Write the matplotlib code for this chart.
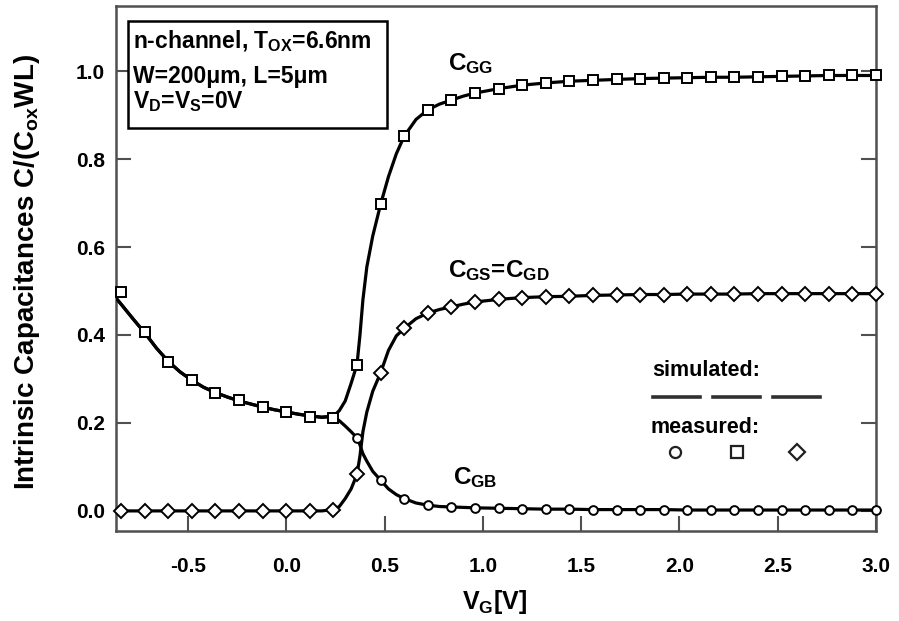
import numpy as np
import matplotlib
matplotlib.use("Agg")
import matplotlib.pyplot as plt
from matplotlib.patches import Rectangle
from matplotlib.lines import Line2D

plt.rcParams['font.family'] = ['Liberation Sans', 'DejaVu Sans']
plt.rcParams['font.weight'] = 'bold'
plt.rcParams['mathtext.fontset'] = 'custom'
plt.rcParams['mathtext.rm'] = 'Liberation Sans:bold'
plt.rcParams['mathtext.it'] = 'Liberation Sans:bold'
plt.rcParams['mathtext.bf'] = 'Liberation Sans:bold'
plt.rcParams['mathtext.default'] = 'rm'
plt.rcParams['axes.unicode_minus'] = False

# ---- measured normalized capacitances (markers) ----
vg_meas = [-0.84, -0.72, -0.60, -0.48, -0.36, -0.24, -0.12, 0.00, 0.12, 0.24,
           0.36, 0.48, 0.60, 0.72, 0.84, 0.96, 1.08, 1.20, 1.32, 1.44,
           1.56, 1.68, 1.80, 1.92, 2.04, 2.16, 2.28, 2.40, 2.52, 2.64,
           2.76, 2.88, 3.00]
cgg_meas = [0.498, 0.407, 0.339, 0.297, 0.269, 0.252, 0.237, 0.225, 0.214, 0.212,
            0.331, 0.697, 0.852, 0.912, 0.934, 0.950, 0.960, 0.968, 0.973, 0.977,
            0.979, 0.981, 0.983, 0.984, 0.985, 0.986, 0.986, 0.987, 0.988, 0.989,
            0.990, 0.990, 0.990]
cgs_meas = [0.0, 0.0, 0.0, 0.0, 0.0, 0.0, 0.0, 0.0, 0.0, 0.003,
            0.083, 0.314, 0.415, 0.450, 0.464, 0.475, 0.481, 0.485, 0.487, 0.488,
            0.490, 0.491, 0.492, 0.492, 0.493, 0.493, 0.493, 0.494, 0.494, 0.494,
            0.494, 0.494, 0.494]
cgb_meas = [0.498, 0.407, 0.339, 0.297, 0.269, 0.252, 0.237, 0.225, 0.214, 0.212,
            0.166, 0.070, 0.028, 0.013, 0.009, 0.007, 0.006, 0.005, 0.004, 0.004,
            0.003, 0.003, 0.003, 0.003, 0.002, 0.002, 0.002, 0.002, 0.002, 0.002,
            0.002, 0.002, 0.002]

# ---- simulated normalized capacitances (lines) ----
vg_sim = [-0.866, -0.84, -0.78, -0.72, -0.66, -0.60, -0.54, -0.48, -0.42, -0.36,
          -0.30, -0.24, -0.18, -0.12, -0.06, 0.00, 0.06, 0.12, 0.18, 0.24,
          0.27, 0.30, 0.33, 0.36, 0.375, 0.39, 0.41, 0.44, 0.48, 0.52,
          0.56, 0.60, 0.66, 0.72, 0.78, 0.84, 0.90, 0.96, 1.08, 1.20,
          1.32, 1.44, 1.56, 1.68, 1.80, 1.92, 2.04, 2.16, 2.28, 2.40,
          2.52, 2.64, 2.76, 2.88, 3.00]
cgg_sim = [0.484, 0.470, 0.437, 0.405, 0.370, 0.340, 0.316, 0.297, 0.281, 0.269,
           0.259, 0.250, 0.243, 0.236, 0.230, 0.225, 0.220, 0.216, 0.213, 0.215,
           0.228, 0.250, 0.290, 0.333, 0.400, 0.480, 0.555, 0.625, 0.697, 0.760,
           0.812, 0.852, 0.890, 0.912, 0.925, 0.934, 0.943, 0.950, 0.960, 0.968,
           0.973, 0.977, 0.979, 0.981, 0.983, 0.984, 0.985, 0.986, 0.986, 0.987,
           0.988, 0.989, 0.990, 0.990, 0.990]
cgs_sim = [0.0, 0.0, 0.0, 0.0, 0.0, 0.0, 0.0, 0.0, 0.0, 0.0,
           0.0, 0.0, 0.0, 0.0, 0.0, 0.0, 0.0, 0.0, 0.0, 0.003,
           0.010, 0.028, 0.050, 0.083, 0.125, 0.180, 0.225, 0.272, 0.314, 0.365,
           0.398, 0.415, 0.437, 0.450, 0.458, 0.464, 0.470, 0.475, 0.481, 0.485,
           0.487, 0.488, 0.490, 0.491, 0.492, 0.492, 0.493, 0.493, 0.493, 0.494,
           0.494, 0.494, 0.494, 0.494, 0.494]
cgb_sim = [0.484, 0.470, 0.437, 0.405, 0.370, 0.340, 0.316, 0.297, 0.281, 0.269,
           0.259, 0.250, 0.243, 0.236, 0.230, 0.225, 0.220, 0.216, 0.213, 0.215,
           0.205, 0.193, 0.180, 0.166, 0.150, 0.130, 0.113, 0.090, 0.070, 0.050,
           0.037, 0.028, 0.018, 0.013, 0.010, 0.009, 0.008, 0.007, 0.006, 0.005,
           0.004, 0.004, 0.003, 0.003, 0.003, 0.003, 0.002, 0.002, 0.002, 0.002,
           0.002, 0.002, 0.002, 0.002, 0.002]

x_ticks = [-0.5, 0.0, 0.5, 1.0, 1.5, 2.0, 2.5, 3.0]
y_ticks = [0.0, 0.2, 0.4, 0.6, 0.8, 1.0]

W, H = 899, 621
fig = plt.figure(figsize=(W / 100, H / 100), dpi=100)
fig.patch.set_facecolor('white')


def fx(px):
    return px / W


def fy(py):
    return 1 - py / H


ax = fig.add_axes([fx(116), fy(530.7), (876 - 116) / W, (530.7 - 6) / H])
ax.set_xlim(-0.866, 3.0)
ax.set_ylim(-0.045, 1.148)

spine_col = '#505050'
for s in ax.spines.values():
    s.set_color(spine_col)
    s.set_linewidth(1.8)

ax.set_xticks(x_ticks)
ax.set_yticks(y_ticks)
ax.set_xticklabels([f"{v:.1f}" for v in x_ticks])
ax.set_yticklabels([f"{v:.1f}" for v in y_ticks])
ax.tick_params(axis='both', direction='in', length=11, width=1.5,
               color=spine_col, labelsize=15)
ax.tick_params(axis='y', right=True, pad=8)
ax.tick_params(axis='x', pad=19)

# simulated curves
for ys in (cgg_sim, cgs_sim, cgb_sim):
    ax.plot(vg_sim, ys, color='black', lw=2.3, solid_capstyle='round', zorder=3)

# measured points
mk = dict(linestyle='none', markerfacecolor='white', markeredgecolor='black',
          markeredgewidth=1.4, zorder=4, clip_on=False)
ax.plot(vg_meas, cgb_meas, marker='o', markersize=6.3, **mk)
ax.plot(vg_meas, cgs_meas, marker='D', markersize=7.3, **mk)
ax.plot(vg_meas, cgg_meas, marker='s', markersize=6.8, **mk)

ax.set_xlabel('V$_G$[V]', fontsize=18, fontweight='bold')
ax.set_ylabel('Intrinsic Capacitances C/(C$_{ox}$WL)', fontsize=20,
              fontweight='bold')
ax.xaxis.set_label_coords((495 - 116) / 760, (530.7 - 588) / 524.7)
ax.yaxis.set_label_coords((42 - 116) / 760, (530.7 - 272) / 524.7)

# curve names
ax.text(fx(448), fy(70), 'C$_{GG}$', transform=fig.transFigure, fontsize=17.5,
        va='baseline', ha='left')
ax.text(fx(448), fy(277), 'C$_{GS}$=C$_{GD}$', transform=fig.transFigure,
        fontsize=17.5, va='baseline', ha='left')
ax.text(fx(453), fy(484), 'C$_{GB}$', transform=fig.transFigure, fontsize=17.5,
        va='baseline', ha='left')

# device description box
box = Rectangle((fx(128), fy(128)), fx(387) - fx(128), fy(21) - fy(128),
                transform=fig.transFigure, facecolor='white',
                edgecolor='black', lw=1.8, zorder=6, clip_on=False)
fig.add_artist(box)
for txt, base in (('n-channel, T$_{OX}$=6.6nm', 48),
                  ('W=200\u03bcm, L=5\u03bcm', 83),
                  ('V$_D$=V$_S$=0V', 108)):
    fig.text(fx(133), fy(base), txt, fontsize=16.5, va='baseline', ha='left',
             zorder=7)

# key for simulated / measured
fig.text(fx(652), fy(376), 'simulated:', fontsize=15.5, va='baseline', ha='left')
for x0, x1 in ((653, 700), (713, 760), (773, 820)):
    fig.add_artist(Line2D([fx(x0), fx(x1)], [fy(397), fy(397)],
                          transform=fig.transFigure, color='#303030', lw=2.6))
fig.text(fx(650), fy(433), 'measured:', fontsize=15.5, va='baseline', ha='left')
for xc, m, ms in ((675, 'o', 8), (737, 's', 8.5), (797, 'D', 8)):
    fig.add_artist(Line2D([fx(xc)], [fy(452)], transform=fig.transFigure,
                          marker=m, markersize=ms, markerfacecolor='white',
                          markeredgecolor='#202020', markeredgewidth=1.6,
                          linestyle='none'))

fig.savefig('out.png', dpi=100)
